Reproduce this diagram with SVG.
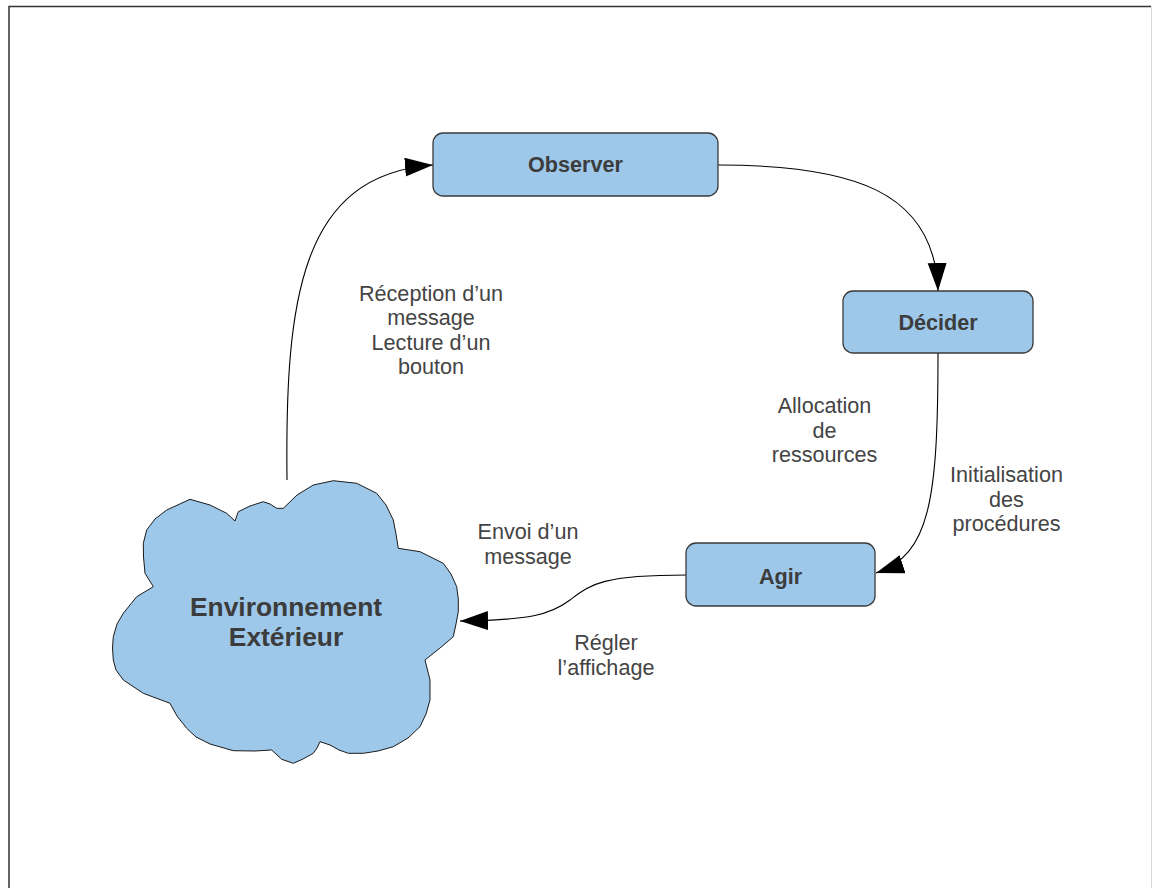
<svg xmlns="http://www.w3.org/2000/svg" width="1152" height="888" viewBox="0 0 1152 888">
<defs>
<style>
.box{fill:#9ec8ea;stroke:#3a3a3a;stroke-width:1.3}
.cloud{fill:#9ec8ea;stroke:#1a1a1a;stroke-width:1}
.bt{font-family:"Liberation Sans",Arial,sans-serif;font-weight:bold;font-size:21.6px;fill:#3c3c3c;text-anchor:middle}
.ct{font-family:"Liberation Sans",Arial,sans-serif;font-weight:bold;font-size:26.4px;fill:#3c3c3c;text-anchor:middle}
.lb{font-family:"Liberation Sans",Arial,sans-serif;font-size:21.6px;fill:#444;text-anchor:middle}
.con{fill:none;stroke:#000;stroke-width:1.1;marker-end:url(#arr)}
</style>
<marker id="arr" markerUnits="userSpaceOnUse" markerWidth="29" markerHeight="20" refX="28" refY="9.5" orient="auto">
<path d="M0,0 L28,9.5 L0,19 Z" fill="#000"/>
</marker>
</defs>
<rect x="0" y="0" width="1152" height="888" fill="#fff"/>
<path d="M9,888 L9,6.5 L1151,6.5" fill="none" stroke="#333" stroke-width="1.5"/>
<path d="M1151.5,6.5 L1151.5,888" fill="none" stroke="#d8d8d8" stroke-width="1"/>

<g id="connectors">
<path class="con" d="M287,480 C285,300 300,175 433,165"/>
<path class="con" d="M718,165 C850,165 935,190 938,291"/>
<path class="con" d="M938,353 C938,500 930,555 876,573"/>
<path class="con" d="M686,575 C600,575 590,585 570,600 C550,615 530,620 460,621"/>
</g>

<g id="observer">
<rect class="box" x="433" y="133" width="285" height="63" rx="10"/>
<text class="bt" x="575.5" y="172">Observer</text>
</g>
<g id="decider">
<rect class="box" x="843" y="291" width="190" height="62" rx="10"/>
<text class="bt" x="938" y="330">Décider</text>
</g>
<g id="agir">
<rect class="box" x="686" y="543" width="189" height="63" rx="10"/>
<text class="bt" x="780.5" y="584">Agir</text>
</g>
<g id="environnement">
<polygon class="cloud" points="235,521 238.3,511.7 250,506 263.3,501.7 270,504 276.7,508.3 283.3,508.3 297,495 313.3,485 333.3,480.7 356.7,483.3 376.7,493.3 386,505 393.3,520 396,534 398.3,548.3 420,551.7 443.3,563.3 451,574 456.7,586.7 458.3,599 458.3,611.7 456,624 453.3,636.7 440,648 425,660 430,680 430,700 426,714 420,726.7 408,738 393.3,746.7 378,751 363.3,753.3 348.3,753.3 339,750 330,745 320,741.7 317,748 313.3,753.3 303,759 293.3,763.3 281.7,759.3 271.7,750 255,751 233.3,750.7 210,744 196,737 186.7,728.3 177,716 170,703.3 143.3,693.3 123.3,680 116,670 113.3,660 112.5,648 113.3,636.7 117,624 123.3,613.3 136.7,596.7 153.3,586.7 145,573.3 143.5,557 143.3,543.3 146.7,530 155,519 166.7,510 190,499.3 210,505 226.7,513.3"/>
<text class="ct" x="286" y="616">Environnement</text>
<text class="ct" x="286" y="646">Extérieur</text>
</g>

<g id="labels">
<text class="lb" x="431" y="300.5">Réception d’un</text>
<text class="lb" x="431" y="325">message</text>
<text class="lb" x="431" y="349.5">Lecture d’un</text>
<text class="lb" x="431" y="374">bouton</text>
<text class="lb" x="824.5" y="413">Allocation</text>
<text class="lb" x="824.5" y="437.5">de</text>
<text class="lb" x="824.5" y="462">ressources</text>
<text class="lb" x="1006.5" y="482">Initialisation</text>
<text class="lb" x="1006.5" y="506.5">des</text>
<text class="lb" x="1006.5" y="531">procédures</text>
<text class="lb" x="528" y="539">Envoi d’un</text>
<text class="lb" x="528" y="563.5">message</text>
<text class="lb" x="606" y="650">Régler</text>
<text class="lb" x="606" y="674.5">l’affichage</text>
</g>
</svg>
